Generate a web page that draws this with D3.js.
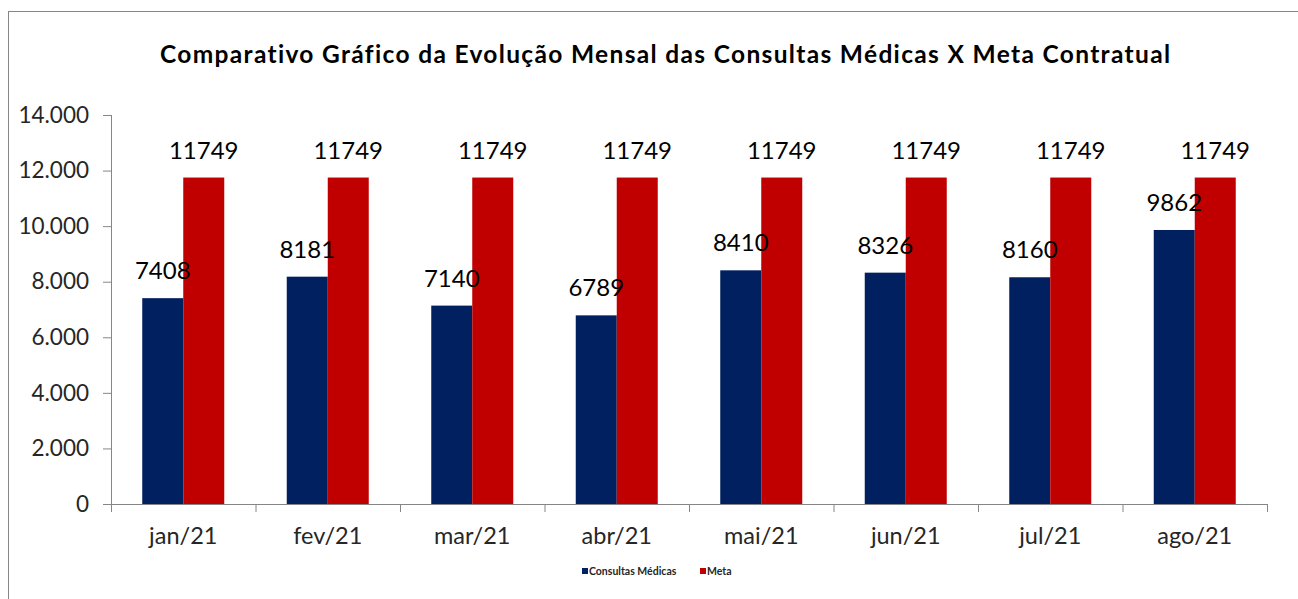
<!DOCTYPE html>
<html><head><meta charset="utf-8">
<script src="https://cdn.jsdelivr.net/npm/d3@7"></script>
<style>body{margin:0;background:#fff}svg{display:block}text{font-variant-ligatures:none;font-feature-settings:"liga" 0}</style>
</head><body>
<svg id="c" width="1298" height="599"></svg>
<script>
const categories = ["jan/21","fev/21","mar/21","abr/21","mai/21","jun/21","jul/21","ago/21"];
const consultas = [7408, 8181, 7140, 6789, 8410, 8326, 8160, 9862];
const meta = [11749, 11749, 11749, 11749, 11749, 11749, 11749, 11749];
const seriesNames = ["Consultas Médicas", "Meta"];
const seriesColors = ["#002060", "#C00000"];
const yTicks = [0, 2000, 4000, 6000, 8000, 10000, 12000, 14000];
const title = "Comparativo Gráfico da Evolução Mensal das Consultas Médicas X Meta Contratual";

const svg = d3.select("#c");
const font = "Lato, 'Open Sans', sans-serif";
svg.append("rect").attr("x",8.5).attr("y",11.5).attr("width",1300).attr("height",600)
  .attr("fill","none").attr("stroke","#868686").attr("stroke-width",1);

const pLeft=111, pRight=1267, pTop=115, pBottom=504;
const x = d3.scaleBand().domain(categories).range([pLeft,pRight]).paddingInner(0).paddingOuter(0);
const y = d3.scaleLinear().domain([0,14000]).range([pBottom,pTop]);
const barW = 41;
const series = [consultas, meta];

svg.append("text").attr("x",160).attr("y",63)
  .attr("textLength",1010).attr("lengthAdjust","spacing")
  .attr("font-family",font).attr("font-weight","bold").attr("font-size",24.5)
  .attr("fill","#000").text(title);

// y axis
const ya = svg.append("g").attr("transform",`translate(${pLeft},0)`)
  .call(d3.axisLeft(y).tickValues(yTicks).tickSize(8).tickPadding(14)
    .tickFormat(d => d3.format(",")(d).replace(/,/g,".")));
ya.selectAll("path,line").attr("stroke","#868686");
ya.select(".domain").attr("d",`M0.5,${pTop}V${pBottom}`);
ya.selectAll("text").attr("font-family",font).attr("font-size",22.5).attr("fill","#262626");

// x axis
const xa = svg.append("g").attr("transform",`translate(0,${pBottom})`)
  .call(d3.axisBottom(x).tickSize(0).tickPadding(23));
xa.select(".domain").attr("stroke","#868686").attr("d",`M${pLeft},0.5H${pRight}`);
xa.selectAll("text").attr("font-family",font).attr("font-size",23.5).attr("fill","#262626");
const bounds = categories.map(c => x(c)).concat([pRight]);
xa.selectAll(".sep").data(bounds).enter().append("line").attr("class","sep")
  .attr("x1",d=>d+0.5).attr("x2",d=>d+0.5).attr("y1",0).attr("y2",8).attr("stroke","#868686");

const barX = (i, si) => x(categories[i]) + x.bandwidth()/2 - barW + si*barW;
series.forEach((vals, si) => {
  svg.append("g").selectAll("rect").data(vals).enter().append("rect")
    .attr("x",(d,i)=> barX(i, si))
    .attr("width",barW)
    .attr("y",d=>y(d)).attr("height",d=>pBottom-y(d))
    .attr("fill",seriesColors[si]);
});
series.forEach((vals, si) => {
  svg.append("g").selectAll("text").data(vals).enter().append("text")
    .attr("x",(d,i)=> barX(i, si) + barW/2)
    .attr("y",d=>y(d)-19).attr("text-anchor","middle")
    .attr("font-family",font).attr("font-size",24).attr("fill","#000").text(d=>d);
});

// legend
const leg = svg.append("g");
const lx = [582, 700];
seriesNames.forEach((n,i)=>{
  leg.append("rect").attr("x",lx[i]).attr("y",568).attr("width",6).attr("height",6).attr("fill",seriesColors[i]);
  leg.append("text").attr("x",lx[i]+7).attr("y",574.5).attr("font-family",font).attr("font-size",10.5)
    .attr("font-weight","bold").attr("fill","#262626").text(n);
});
</script>
</body></html>
